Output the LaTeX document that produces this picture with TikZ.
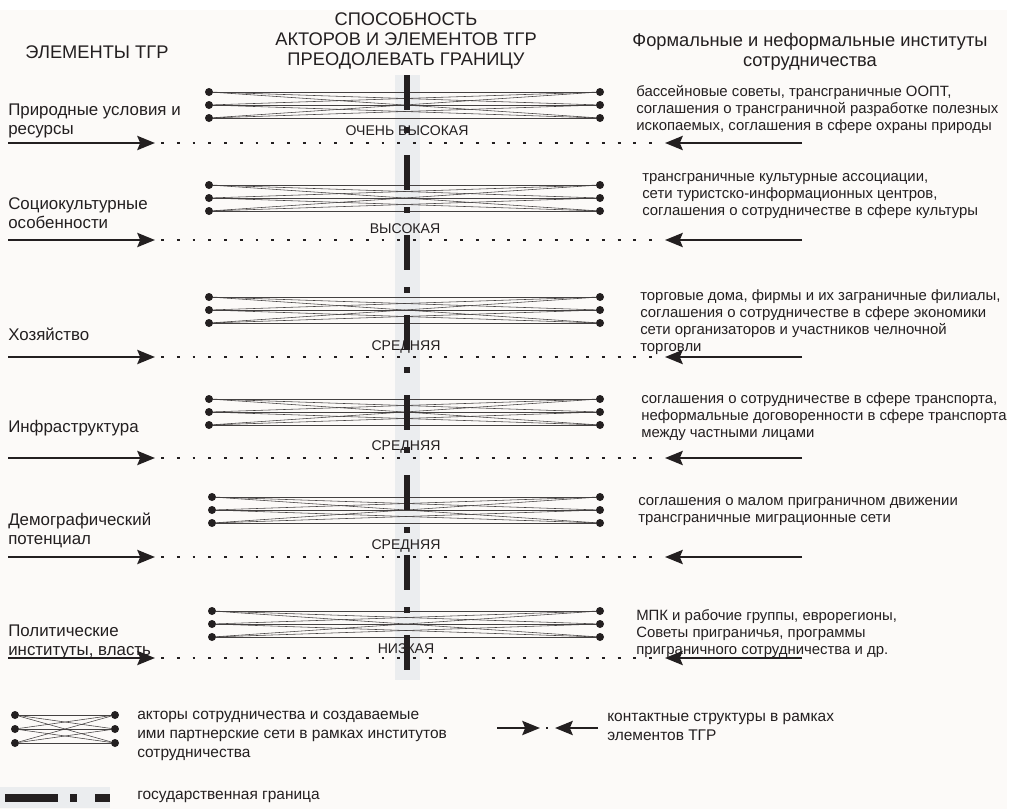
\documentclass[tikz,border=0pt]{standalone}
\usepackage{fontspec}
\setmainfont{Liberation Sans}
\usetikzlibrary{arrows.meta}
\definecolor{paper}{RGB}{252,250,248}
\definecolor{band}{RGB}{235,237,239}
\definecolor{ink}{RGB}{35,31,32}
\begin{document}
\begin{tikzpicture}[x=0.025cm, y=-0.025cm, color=ink,
  actor/.style={shape=circle, fill=ink, inner sep=0pt, minimum size=0.2cm},
  link/.style={draw=ink!85, line width=0.4pt},
  feed/.style={line width=2.1pt, -{Stealth[length=0.44cm,width=0.35cm,inset=0.07cm]}},
  contact/.style={line width=2pt, dash pattern=on 2pt off 9.2pt, shorten <=0.15cm, shorten >=0.15cm},
  border/.style={line width=4.8pt, dash pattern=on 24.9pt off 12.1pt on 4.3pt off 15.6pt},
  head/.style={font=\fontsize{13}{14.5}\selectfont, align=center, inner sep=0pt},
  elem/.style={font=\fontsize{12}{13.5}\selectfont, align=left, anchor=north west, inner sep=0pt},
  inst/.style={font=\fontsize{10.6}{12.1}\selectfont, align=left, anchor=north west, inner sep=0pt},
  level/.style={font=\fontsize{10}{12}\selectfont, inner sep=0pt},
  note/.style={font=\fontsize{11}{13.5}\selectfont, align=left, anchor=north west, inner sep=0pt}]
\useasboundingbox (0,0) rectangle (1010,809);
\fill[white] (0,0) rectangle (1010,809);
\fill[paper] (0,10) rectangle (1007,809);
\fill[band] (395,75) rectangle (420,680);

% headings
\node[head] (head-elem) at (97,52) {ЭЛЕМЕНТЫ ТГР};
\node[head] (head-cap) at (406,41) {СПОСОБНОСТЬ\\АКТОРОВ И ЭЛЕМЕНТОВ ТГР\\ПРЕОДОЛЕВАТЬ ГРАНИЦУ};
\node[head] (head-inst) at (810,52) {Формальные и неформальные институты\\сотрудничества};

% networks and contact lines
\foreach \r/\y/\d/\xl in {1/92/143/209, 2/185/240/209, 3/297/357/209, 4/399/458/209, 5/497/557/212, 6/611/658/212} {
  \foreach \k in {0,1,2} {
    \node[actor] (L\r\k) at (\xl,\y+13*\k) {};
    \node[actor] (R\r\k) at (600,\y+13*\k) {};
  }
  \foreach \a in {0,1,2} \foreach \b in {0,1,2}
    \path[link] (L\r\a) edge (R\r\b);
  \coordinate (A\r) at (8,\d);
  \coordinate (B\r) at (155,\d);
  \coordinate (C\r) at (665,\d);
  \coordinate (D\r) at (802,\d);
  \draw[feed] (A\r) -- (B\r);
  \draw[feed] (D\r) -- (C\r);
  \draw[contact] (B\r) -- (C\r);
}

% elements
\node[elem] (elem1) at (8,104) {Природные условия и\\ресурсы};
\node[elem] (elem2) at (8,197) {Социокультурные\\особенности};
\node[elem] (elem3) at (8,328) {Хозяйство};
\node[elem] (elem4) at (8,420) {Инфраструктура};
\node[elem] (elem5) at (8,513) {Демографический\\потенциал};
\node[elem] (elem6) at (8,625) {Политические\\институты, власть};

% levels
\node[level] (lev1) at (407,131) {ОЧЕНЬ ВЫСОКАЯ};
\node[level] (lev2) at (405,229) {ВЫСОКАЯ};
\node[level] (lev3) at (406,347) {СРЕДНЯЯ};
\node[level] (lev4) at (406,447) {СРЕДНЯЯ};
\node[level] (lev5) at (406,546) {СРЕДНЯЯ};
\node[level] (lev6) at (406,649) {НИЗКАЯ};

% institutes
\node[inst] (inst1) at (636,85) {бассейновые советы, трансграничные ООПТ,\\соглашения о трансграничной разработке полезных\\ископаемых, соглашения в сфере охраны природы};
\node[inst] (inst2) at (642,173) {трансграничные культурные ассоциации,\\сети туристско-информационных центров,\\соглашения о сотрудничестве в сфере культуры};
\node[inst] (inst3) at (640,289) {торговые дома, фирмы и их заграничные филиалы,\\соглашения о сотрудничестве в сфере экономики\\сети организаторов и участников челночной\\торговли};
\node[inst] (inst4) at (641,392) {соглашения о сотрудничестве в сфере транспорта,\\неформальные договоренности в сфере транспорта\\между частными лицами};
\node[inst] (inst5) at (638,497) {соглашения о малом приграничном движении\\трансграничные миграционные сети};
\node[inst] (inst6) at (636,609) {МПК и рабочие группы, еврорегионы,\\Советы приграничья, программы\\приграничного сотрудничества и др.};

% state border
\draw[border] (407,75) -- (407,680);

% legend
\foreach \k in {0,1,2} {
  \node[actor] (NL\k) at (15,715+14*\k) {};
  \node[actor] (NR\k) at (115,715+14*\k) {};
}
\foreach \a in {0,1,2} \foreach \b in {0,1,2}
  \path[link] (NL\a) edge (NR\b);
\node[note] (key-net) at (137,711) {акторы сотрудничества и создаваемые\\ими партнерские сети в рамках институтов\\сотрудничества};
\coordinate (KA) at (497,728);
\coordinate (KB) at (540,728);
\coordinate (KC) at (555,728);
\coordinate (KD) at (598,728);
\draw[feed] (KA) -- (KB);
\draw[feed] (KD) -- (KC);
\node[shape=rectangle, fill=ink, inner sep=0pt, minimum size=0.07cm] (KP) at (547,728) {};
\node[note] (key-contact) at (607,713) {контактные структуры в рамках\\элементов ТГР};
\fill[band] (0,787) rectangle (110,808);
\draw[line width=5.5pt] (5,798) -- (58,798) (70,798) -- (77,798) (95,798) -- (110,798);
\node[note, anchor=west] (key-border) at (137,797) {государственная граница};
\end{tikzpicture}
\end{document}
